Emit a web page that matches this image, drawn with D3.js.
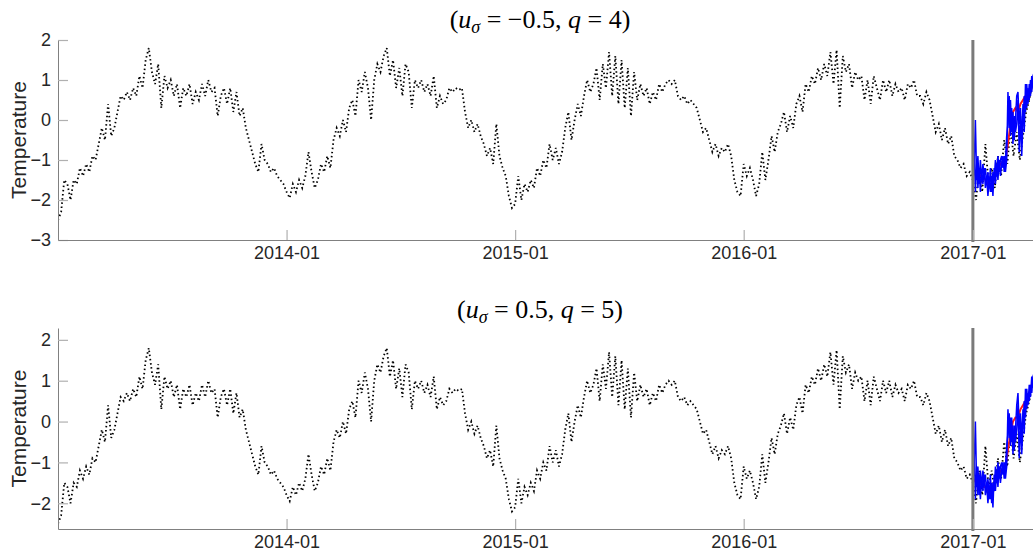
<!DOCTYPE html>
<html>
<head>
<meta charset="utf-8">
<script src="https://cdn.jsdelivr.net/npm/d3@7"></script>
<style>
  html, body { margin: 0; padding: 0; background: #fff; }
  svg { display: block; font-family: "Liberation Sans", Arial, Helvetica, sans-serif; }
</style>
</head>
<body>
<svg id="chart" width="1033" height="556"></svg>
<script>
// Observed temperature anomaly, one array per calendar year, evenly spaced through the year
const obs2013 = [-2.5,-2.3,-1.5,-1.6,-2.0,-1.5,-1.6,-1.2,-1.4,-1.1,-1.3,-0.9,-1.0,-0.6,-0.2,-0.5,0.4,-0.4,-0.2,0.2,
  0.6,0.5,0.7,0.5,0.8,0.6,1.1,0.8,1.5,1.8,1.2,0.9,1.4,0.3,1.1,0.8,1.0,0.6,0.9,0.3,
  0.8,0.6,0.9,0.4,0.7,0.5,0.9,0.6,1.0,0.7,0.8,0.1,0.6,0.8,0.4,0.8,0.2,0.7,0.1,0.3,
  -0.2,-0.5,-0.8,-1.1,-1.3,-0.6,-1.0,-1.1,-1.3,-1.2,-1.4,-1.5,-1.6];
const obs2014 = [-1.8,-1.95,-1.6,-1.8,-1.5,-1.7,-1.4,-0.8,-1.3,-1.7,-1.5,-1.1,-1.3,-0.9,-1.2,-0.5,-0.2,-0.4,0.0,-0.3,
  0.3,0.5,0.1,1.0,0.7,1.2,0.8,0.0,1.0,1.4,1.2,1.6,1.8,1.1,1.5,0.8,1.3,0.6,1.4,1.2,
  0.3,1.0,0.8,1.0,0.7,0.9,0.6,1.1,0.3,0.6,0.4,0.5,0.8,0.7,0.8,0.75,0.8,0.2,-0.2,0.0,
  -0.3,-0.1,-0.4,-0.6,-0.9,-0.7,-1.1,-0.1,-0.9,-1.2,-1.4,-1.9,-2.2];
const obs2015 = [-2.1,-1.4,-2.0,-1.6,-1.8,-1.5,-1.7,-1.2,-1.4,-1.0,-1.2,-0.6,-1.0,-0.7,-1.1,-0.8,-0.2,0.2,-0.5,0.0,
  0.4,0.1,0.6,1.0,0.7,0.9,1.3,0.5,1.4,0.8,1.7,0.6,1.6,0.4,1.5,0.3,1.3,0.1,1.2,0.5,
  0.9,0.6,0.8,0.4,0.7,0.5,0.9,0.7,0.9,1.0,0.9,1.0,0.6,0.5,0.6,0.4,0.5,0.4,0.3,0.0,
  -0.3,-0.2,-0.5,-0.8,-0.6,-0.9,-0.7,-0.8,-0.6,-0.9,-1.5,-1.8,-1.9];
const obs2016 = [-1.1,-1.4,-1.2,-1.5,-1.9,-1.6,-0.8,-1.5,-1.0,-0.4,-0.8,-0.3,-0.1,0.2,-0.3,0.1,-0.2,0.4,0.6,0.2,
  0.9,0.7,1.1,0.9,1.3,1.0,1.4,1.1,1.7,0.9,1.75,0.3,1.6,1.2,1.4,0.8,1.2,1.0,1.1,0.5,
  1.0,0.4,1.1,0.8,0.5,1.0,0.7,1.0,0.6,0.9,0.7,0.8,0.5,0.9,0.8,1.0,0.6,0.6,0.4,0.7,
  0.5,0.1,-0.3,-0.1,-0.5,-0.2,-0.6,-0.4,-0.9,-1.0,-1.2,-1.1,-1.4,-1.3];
// 2017 observations, every 5 days from 1 January
const obs2017 = [-1.5,-2.0,-1.2,-1.8,-0.6,-1.6,-1.2,-1.7,-0.9,-1.4,-0.5,-1.1,-0.2,-0.9,-0.3,-1.0,-0.4,0.2,0.5,0.9];

// Forecast paths from 1 January 2017, every 2 days (blue) and every 4 days (red)
const topBlueA = [-1.3,-1.2,0.0,-1.5,-0.9,-1.6,-1.0,-1.5,-1.1,-1.4,-1.2,-1.6,-1.3,-1.7,-1.2,-1.8,-1.3,-1.5,-1.0,-1.4,
  -0.9,-1.3,-1.0,-0.9,-1.2,-0.9,-1.3,-1.0,0.7,-0.2,0.5,-0.3,0.2,-0.5,0.0,0.6,0.7,-0.1,0.3,-0.6,
  0.4,-0.3,0.9,0.3,0.8,0.5,1.0,0.7,1.1,1.2];
const topBlueB = [-1.5,-0.8,-1.8,-1.0,-1.7,-1.2,-1.8,-1.3,-1.6,-1.2,-1.7,-1.4,-1.9,-1.5,-1.8,-1.4,-1.9,-1.2,-1.6,-1.1,
  -1.5,-1.0,-1.4,-1.1,-0.9,-1.3,-1.0,-0.4,-0.1,0.6,-0.4,0.3,-0.6,0.1,-0.3,-0.1,0.5,-0.8,0.1,-0.9,
  0.0,0.6,0.2,0.9,0.4,0.9,0.6,1.1,0.8,1.1];
const topRed = [-1.4,-1.3,-1.3,-1.4,-1.4,-1.5,-1.6,-1.6,-1.6,-1.3,-1.2,-1.1,-1.05,-1.0,-0.6,-0.1,0.2,0.3,0.2,0.4,
  0.5,0.6,0.7,0.8,1.0];
const bottomBlueA = [-1.4,-1.1,0.0,-1.6,-1.1,-1.8,-1.2,-1.6,-1.2,-1.5,-1.3,-1.7,-1.4,-1.9,-1.3,-2.0,-1.5,-1.7,-1.1,-1.5,
  -1.0,-1.4,-1.1,-1.0,-1.3,-1.0,-1.4,-1.1,0.3,-0.4,0.1,-0.5,-0.1,-0.7,-0.2,0.4,0.7,-0.2,0.2,-0.5,
  0.3,-0.3,0.8,0.3,0.7,0.5,0.9,0.7,1.1,1.2];
const bottomBlueB = [-1.6,-0.7,-1.9,-1.1,-1.8,-1.3,-1.9,-1.4,-1.7,-1.3,-1.8,-1.5,-2.0,-1.6,-1.9,-1.5,-2.1,-1.3,-1.7,-1.2,
  -1.6,-1.1,-1.5,-1.2,-1.0,-1.4,-1.1,-0.6,-0.3,0.2,-0.6,0.1,-0.8,-0.1,-0.5,-0.2,0.4,-0.9,0.0,-0.8,
  -0.1,0.5,0.1,0.8,0.4,0.9,0.6,1.1,0.9,1.2];
const bottomRed = [-1.5,-1.4,-1.4,-1.5,-1.6,-1.6,-1.7,-1.8,-1.7,-1.4,-1.3,-1.2,-1.2,-1.1,-0.7,-0.3,0.0,0.1,0.1,0.3,
  0.4,0.5,0.6,0.8,1.0];

const xTickLabels = ["2014-01", "2015-01", "2016-01", "2017-01"];
const topYTicks = [-3, -2, -1, 0, 1, 2];
const bottomYTicks = [-2, -1, 0, 1, 2];

const DAY = 86400000;
const yearSeries = (year, values) => {
  const start = Date.UTC(year, 0, 1), end = Date.UTC(year + 1, 0, 1);
  const step = (end - start) / values.length;
  return values.map((v, i) => ({ date: new Date(start + i * step), value: v }));
};
const stepSeries = (start, stepDays, values) =>
  values.map((v, i) => ({ date: new Date(start + i * stepDays * DAY), value: v }));

const forecastStart = Date.UTC(2017, 0, 1);
const observed = [].concat(
  yearSeries(2013, obs2013), yearSeries(2014, obs2014), yearSeries(2015, obs2015),
  yearSeries(2016, obs2016), stepSeries(forecastStart, 5, obs2017));

const svg = d3.select("#chart");
const x = d3.scaleUtc()
  .domain([new Date(Date.UTC(2013, 0, 1)), new Date(Date.UTC(2017, 3, 7))])
  .range([58, 1033]);
const tickDates = xTickLabels.map(s => d3.utcParse("%Y-%m")(s));

const panels = [
  { yDomain: [-3, 2], yRange: [240, 40], yTicks: topYTicks, titleY: 28,
    sigma: "\u22120.5", q: "4", blues: [topBlueA, topBlueB], red: topRed },
  { yDomain: [-2.63, 2.29], yRange: [529, 328], yTicks: bottomYTicks, titleY: 318,
    sigma: "0.5", q: "5", blues: [bottomBlueA, bottomBlueB], red: bottomRed }
];

panels.forEach((p, k) => {
  const y = d3.scaleLinear().domain(p.yDomain).range(p.yRange);
  const g = svg.append("g");
  const clipId = "clip" + k;
  svg.append("defs").append("clipPath").attr("id", clipId)
    .append("rect").attr("x", 58).attr("y", p.yRange[1]).attr("width", 975).attr("height", p.yRange[0] - p.yRange[1]);

  const line = d3.line().x(d => x(d.date)).y(d => y(d.value));
  const plot = g.append("g").attr("clip-path", `url(#${clipId})`);

  // observed series, dotted
  plot.append("path").datum(observed)
    .attr("d", line).attr("fill", "none").attr("stroke", "#000")
    .attr("stroke-width", 1.8).attr("stroke-dasharray", "1.5,2.7");

  // forecast central path (red) beneath the blue paths
  plot.append("path").datum(stepSeries(forecastStart, 4, p.red))
    .attr("d", line).attr("fill", "none").attr("stroke", "#ff1a1a").attr("stroke-width", 2);
  p.blues.forEach(b => {
    plot.append("path").datum(stepSeries(forecastStart, 2, b))
      .attr("d", line).attr("fill", "none").attr("stroke", "#0000ff").attr("stroke-width", 1.5);
  });

  // forecast origin marker
  const xf = x(new Date(forecastStart));
  g.append("line").attr("x1", xf).attr("x2", xf).attr("y1", p.yRange[1]).attr("y2", p.yRange[0] + 2)
    .attr("stroke", "#7a7a7a").attr("stroke-width", 3);

  // axes
  const yAxis = g.append("g").attr("transform", "translate(58,0)")
    .call(d3.axisLeft(y).tickValues(p.yTicks).tickFormat(d3.format("d")).tickSizeInner(-10).tickSizeOuter(0).tickPadding(7));
  const xAxis = g.append("g").attr("transform", `translate(0,${p.yRange[0]})`)
    .call(d3.axisBottom(x).tickValues(tickDates).tickFormat(d3.utcFormat("%Y-%m")).tickSizeInner(-10).tickSizeOuter(0).tickPadding(6));
  [yAxis, xAxis].forEach(a => {
    a.select(".domain").attr("stroke", "#808080").attr("stroke-width", 1);
    a.selectAll(".tick line").attr("stroke", "#b0b0b0").attr("stroke-width", 1.2);
    a.selectAll(".tick text").attr("fill", "#262626").style("font-size", "18px")
      .style("font-family", "'Liberation Sans', Arial, Helvetica, sans-serif");
  });

  // y label
  const yMid = (p.yRange[0] + p.yRange[1]) / 2;
  g.append("text").attr("transform", `translate(26,${yMid}) rotate(-90)`)
    .attr("text-anchor", "middle").attr("fill", "#262626").style("font-size", "21px")
    .text("Temperature");

  // title
  const t = g.append("text").attr("x", 540).attr("y", p.titleY).attr("text-anchor", "middle")
    .style("font-family", "'Liberation Serif', 'DejaVu Serif', serif").style("font-size", "26px").attr("fill", "#000");
  t.append("tspan").text("(");
  t.append("tspan").style("font-style", "italic").text("u");
  t.append("tspan").style("font-style", "italic").style("font-size", "18px").attr("dy", 5).text("\u03c3");
  t.append("tspan").attr("dy", -5).text(" = " + p.sigma + ", ");
  t.append("tspan").style("font-style", "italic").text("q");
  t.append("tspan").text(" = " + p.q + ")");
});
</script>
</body>
</html>
